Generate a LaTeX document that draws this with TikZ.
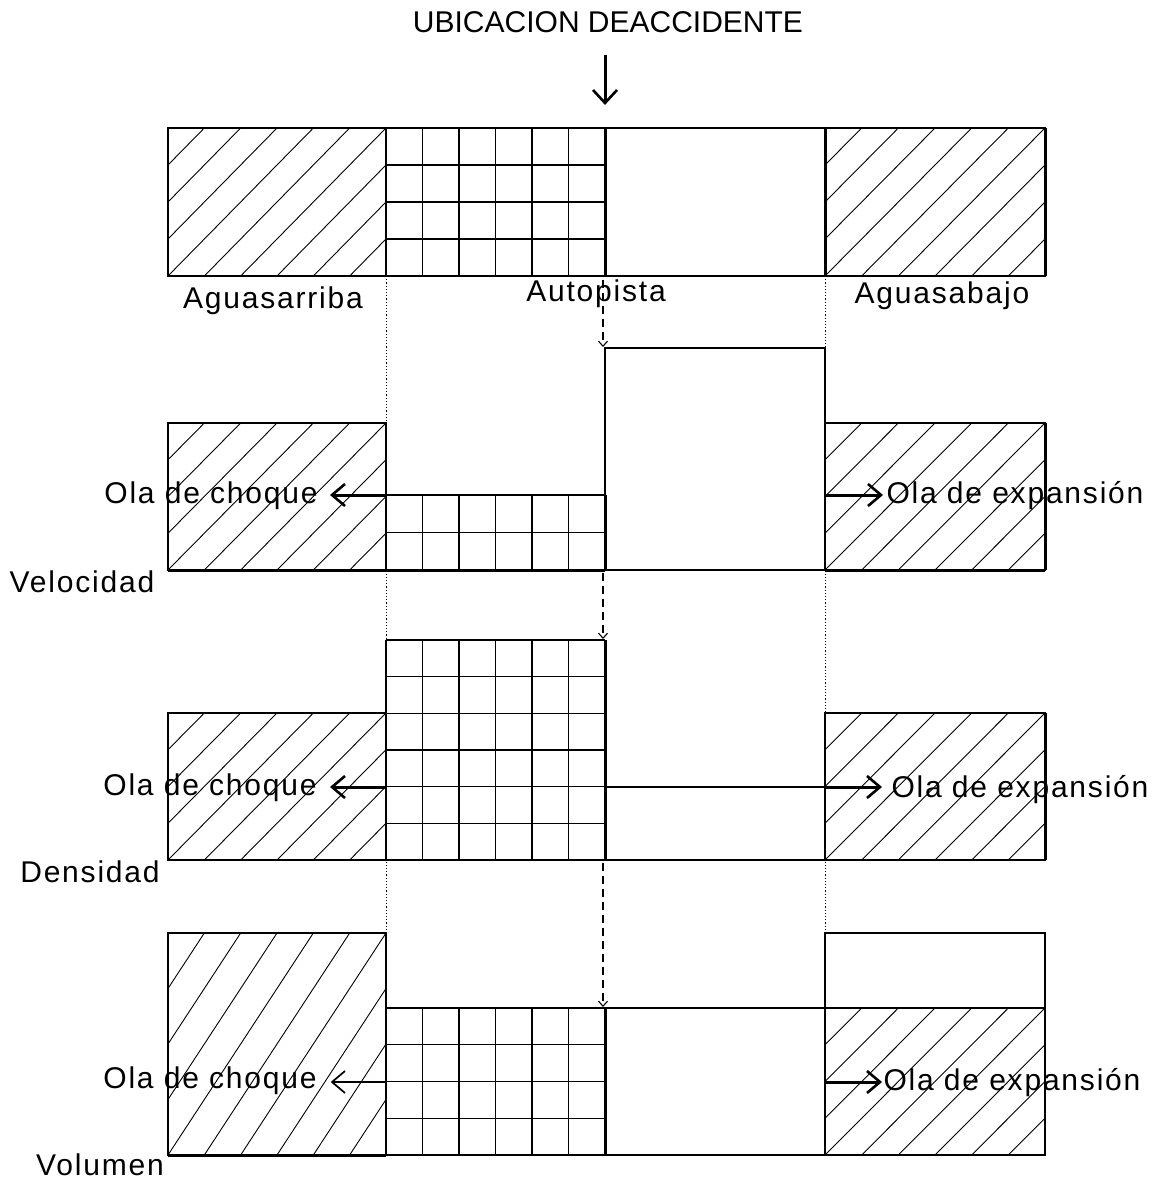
\documentclass[tikz,border=0pt]{standalone}
\usepackage{fontspec}
\setmainfont{Liberation Sans}
\newfontfamily\lblfont{Liberation Sans}[LetterSpace=6]
\usetikzlibrary{arrows.meta}
\tikzset{
  outline/.style={line width=1.4pt},
  heavy/.style={line width=3pt},
  gridln/.style={line width=1.4pt},
  hatchln/.style={line width=0.9pt},
  guide/.style={line width=1pt, dash pattern=on 1.2pt off 2pt},
  drop/.style={line width=1.1pt, dash pattern=on 8pt off 5pt, -{Straight Barb[length=5pt,width=9pt]}},
  shaft/.style={line width=3pt},
  thinshaft/.style={line width=1.5pt},
  barb/.style={line width=2.6pt, line join=miter, line cap=butt},
  thinbarb/.style={line width=1.7pt, line join=miter, line cap=butt},
  lbl/.style={font=\lblfont\fontsize{30}{34}\selectfont, inner sep=0pt, anchor=base},
  ttl/.style={font=\fontsize{30}{34}\selectfont, inner sep=0pt, anchor=base},
}
\newcommand\hatchrect[4]{%
  \begin{scope}
    \clip (#1,#2) rectangle (#3,#4);
    \foreach \k in {-4,...,6}
      \draw[hatchln] ({#1+(\k)*(#3-#1)/6},#4) -- ({#1+(\k+4)*(#3-#1)/6},#2);
  \end{scope}
  \draw[outline] (#1,#2) rectangle (#3,#4);}
\newcommand\gridblock[3]{%
  \foreach \i in {0,...,6}
    \draw[gridln] ({386+\i*36.5},#1) -- ({386+\i*36.5},#2);
  \foreach \j in {0,...,#3}
    \draw[gridln] (386,{#1+\j*(#2-#1)/#3}) -- (605,{#1+\j*(#2-#1)/#3});}
% arrow heads: #1 style, #2 tip coordinate name
\newcommand\headleft[2]{\draw[#1] ([shift={(13,-11)}]#2) -- (#2) -- ([shift={(13,11)}]#2);}
\newcommand\headright[2]{\draw[#1] ([shift={(-13,-11)}]#2) -- (#2) -- ([shift={(-13,11)}]#2);}
\newcommand\headdown[2]{\draw[#1] ([shift={(-12,-13)}]#2) -- (#2) -- ([shift={(12,-13)}]#2);}
\begin{document}
\begin{tikzpicture}[x=1pt,y=-1pt]
\useasboundingbox (0,0) rectangle (1154,1180);

% guides
\coordinate (gLt) at (386,276); \coordinate (gLb) at (386,933);
\coordinate (gRt) at (825,276); \coordinate (gRb) at (825,933);
\draw[guide] (gLt) -- (gLb);
\draw[guide] (gRt) -- (gRb);

% title
\node[ttl] (title) at (608,33) {UBICACION DEACCIDENTE};
\coordinate (accA) at (605,55); \coordinate (accB) at (605,103);
\draw[shaft] (accA) -- ([yshift=2pt]accB);
\headdown{barb}{accB}

% panel 1
\hatchrect{168}{128}{386}{276}
\gridblock{128}{276}{4}
\draw[outline] (168,128) rectangle (1045,276);
\hatchrect{825}{128}{1045}{276}
\draw[heavy] (605,128) -- (605,276);
\draw[heavy] (825,128) -- (825,276);
\draw[heavy] (1045,128) -- (1045,276);
\node[lbl] (arriba) at (273,308) {Aguasarriba};
\node[lbl] (autopista) at (596,301) {Autopista};
\node[lbl] (abajo) at (942,303) {Aguasabajo};

% panel 2
\hatchrect{168}{423}{386}{570}
\gridblock{495}{570}{2}
\draw[outline] (605,348) rectangle (825,570);
\hatchrect{825}{423}{1045}{570}
\draw[heavy] (168,570) -- (605,570);
\draw[heavy] (825,570) -- (1045,570);
\draw[heavy] (1045,423) -- (1045,570);
\draw[heavy] (605,495) -- (605,570);

% panel 3
\hatchrect{168}{713}{386}{860}
\gridblock{640}{860}{6}
\draw[outline] (605,787) -- (825,787);
\draw[outline] (605,860) -- (825,860);
\hatchrect{825}{713}{1045}{860}
\draw[heavy] (605,640) -- (605,860);
\draw[heavy] (1045,713) -- (1045,860);

% panel 4
\hatchrect{168}{933}{386}{1155}
\gridblock{1008}{1155}{4}
\draw[outline] (605,1008) -- (825,1008);
\draw[outline] (605,1155) -- (825,1155);
\draw[outline] (825,933) rectangle (1045,1155);
\hatchrect{825}{1008}{1045}{1155}
\draw[heavy] (168,1155) -- (386,1155);
\draw[heavy] (605,1008) -- (605,1155);

% dashed drops
\coordinate (d1a) at (603,280); \coordinate (d1b) at (603,347);
\coordinate (d2a) at (603,573); \coordinate (d2b) at (603,639);
\coordinate (d3a) at (603,863); \coordinate (d3b) at (603,1007);
\draw[drop] (d1a) -- (d1b);
\draw[drop] (d2a) -- (d2b);
\draw[drop] (d3a) -- (d3b);

% wave arrows
\coordinate (c2a) at (386,495); \coordinate (c2b) at (332,495);
\coordinate (e2a) at (825,495); \coordinate (e2b) at (881,495);
\coordinate (c3a) at (386,787); \coordinate (c3b) at (332,787);
\coordinate (e3a) at (825,787); \coordinate (e3b) at (880,787);
\coordinate (c4a) at (386,1082); \coordinate (c4b) at (332,1082);
\coordinate (e4a) at (825,1082); \coordinate (e4b) at (880,1082);
\draw[shaft] (c2a) -- (c2b); \headleft{barb}{c2b}
\draw[shaft] (e2a) -- (e2b); \headright{barb}{e2b}
\draw[shaft] (c3a) -- (c3b); \headleft{barb}{c3b}
\draw[shaft] (e3a) -- (e3b); \headright{barb}{e3b}
\draw[thinshaft] (c4a) -- (c4b); \headleft{thinbarb}{c4b}
\draw[shaft] (e4a) -- (e4b); \headright{barb}{e4b}

% labels
\node[lbl] (ch2) at (211,503) {Ola de choque};
\node[lbl] (ex2) at (1015,503) {Ola de expansión};
\node[lbl] (ch3) at (210,795) {Ola de choque};
\node[lbl] (ex3) at (1020,797) {Ola de expansión};
\node[lbl] (ch4) at (210,1088) {Ola de choque};
\node[lbl] (ex4) at (1012,1090) {Ola de expansión};
\node[lbl] (vel) at (82,592) {Velocidad};
\node[lbl] (den) at (90,882) {Densidad};
\node[lbl] (vol) at (100,1175) {Volumen};
\end{tikzpicture}
\end{document}
